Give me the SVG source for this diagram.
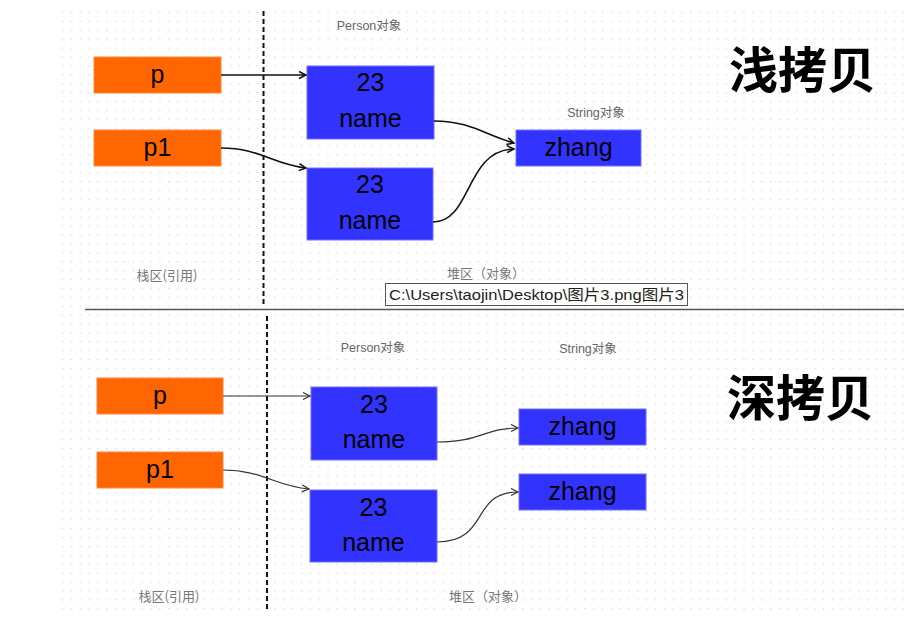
<svg xmlns="http://www.w3.org/2000/svg" width="904" height="625" viewBox="0 0 904 625">
<defs>
<pattern id="dots" x="0" y="3" width="8.85" height="8.9" patternUnits="userSpaceOnUse">
<rect x="0" y="0" width="1.2" height="1.2" fill="#d2d2d2"/>
</pattern>
<marker id="ah" markerWidth="10" markerHeight="10" refX="8" refY="4" orient="auto" markerUnits="userSpaceOnUse">
<path d="M1,0.5 L8,4 L1,7.5" fill="none" stroke="#111" stroke-width="1.5"/>
</marker>
<marker id="ah2" markerWidth="10" markerHeight="10" refX="8" refY="4" orient="auto" markerUnits="userSpaceOnUse">
<path d="M1,0.5 L8,4 L1,7.5" fill="none" stroke="#333" stroke-width="1.2"/>
</marker>
<style>
.ref{fill:#FF6600;stroke:#ff8a3d;stroke-width:1}
.obj{fill:#3333FF;stroke:#7070ff;stroke-width:1}
.big{font-family:"Liberation Sans",Arial,sans-serif;font-size:25px;fill:#000;text-anchor:middle}
.lbl{font-family:"Liberation Sans","Noto Sans CJK SC",sans-serif;font-size:12.5px;fill:#666;text-anchor:middle}
.zone{font-family:"Noto Sans CJK SC",sans-serif;font-size:13px;fill:#777;text-anchor:middle}
.title{font-family:"Noto Sans CJK SC",sans-serif;font-size:49px;font-weight:bold;fill:#000}
.c1{fill:none;stroke:#111;stroke-width:1.6}
.c2{fill:none;stroke:#333;stroke-width:1.2}
.dash{stroke:#111;stroke-width:2;stroke-dasharray:5 3}
</style>
</defs>
<rect width="904" height="625" fill="#fff"/>
<rect x="62" y="8" width="842" height="606" fill="url(#dots)"/>

<!-- separators -->
<line class="dash" x1="263.5" y1="11" x2="263.5" y2="305"/>
<line class="dash" x1="267" y1="316" x2="267" y2="612"/>
<line x1="85" y1="309.5" x2="904" y2="309.5" stroke="#555" stroke-width="1.6"/>

<!-- labels -->
<text class="lbl" x="369" y="30">Person对象</text>
<text class="lbl" x="596" y="117">String对象</text>
<text class="lbl" x="373" y="352">Person对象</text>
<text class="lbl" x="588" y="353">String对象</text>
<text class="zone" x="167" y="280">栈区(引用)</text>
<text class="zone" x="486" y="278">堆区（对象）</text>
<text class="zone" x="169" y="601">栈区(引用)</text>
<text class="zone" x="488" y="601">堆区（对象）</text>
<text class="title" x="729" y="88">浅拷贝</text>
<text class="title" x="727" y="416">深拷贝</text>

<!-- tooltip -->
<g id="tooltip">
<rect x="385.5" y="283.5" width="302" height="22" fill="#fff" stroke="#555" stroke-width="1"/>
<text x="389" y="300" font-family="Liberation Sans,'Noto Sans CJK SC',sans-serif" font-size="15" fill="#222" textLength="295" lengthAdjust="spacingAndGlyphs">C:\Users\taojin\Desktop\图片3.png图片3</text>
</g>

<!-- top section nodes -->
<g id="top-p"><rect class="ref" x="94" y="57" width="127" height="36"/><text class="big" x="157.5" y="83">p</text></g>
<g id="top-p1"><rect class="ref" x="94" y="130" width="127" height="36"/><text class="big" x="157.5" y="156">p1</text></g>
<g id="top-person1"><rect class="obj" x="307" y="66" width="127" height="73"/><text class="big" x="370.5" y="91">23</text><text class="big" x="370.5" y="127">name</text></g>
<g id="top-person2"><rect class="obj" x="307" y="168" width="126" height="72"/><text class="big" x="370" y="193">23</text><text class="big" x="370" y="229">name</text></g>
<g id="top-string"><rect class="obj" x="516" y="130" width="125" height="36"/><text class="big" x="578.5" y="156">zhang</text></g>

<!-- bottom section nodes -->
<g id="bot-p"><rect class="ref" x="97" y="378" width="126" height="36"/><text class="big" x="160" y="404">p</text></g>
<g id="bot-p1"><rect class="ref" x="97" y="452" width="126" height="36"/><text class="big" x="160" y="478">p1</text></g>
<g id="bot-person1"><rect class="obj" x="311" y="387" width="126" height="73"/><text class="big" x="374" y="413">23</text><text class="big" x="374" y="448">name</text></g>
<g id="bot-person2"><rect class="obj" x="310" y="490" width="127" height="72"/><text class="big" x="373.5" y="516">23</text><text class="big" x="373.5" y="551">name</text></g>
<g id="bot-string1"><rect class="obj" x="519" y="409" width="127" height="36"/><text class="big" x="582.5" y="435">zhang</text></g>
<g id="bot-string2"><rect class="obj" x="519" y="474" width="127" height="36"/><text class="big" x="582.5" y="500">zhang</text></g>

<!-- connectors -->
<g id="connectors">
<path class="c1" d="M221,75 H306" marker-end="url(#ah)"/>
<path class="c1" d="M221,148 C260,148 272,164 306,168" marker-end="url(#ah)"/>
<path class="c1" d="M434,121 C470,121 485,135 514,143" marker-end="url(#ah)"/>
<path class="c1" d="M433,222 C472,222 465,150 514,149" marker-end="url(#ah)"/>
<path class="c2" d="M223,396 H310" marker-end="url(#ah2)"/>
<path class="c2" d="M223,470 C262,470 275,486 309,489" marker-end="url(#ah2)"/>
<path class="c2" d="M437,442 C480,442 485,428 518,428" marker-end="url(#ah2)"/>
<path class="c2" d="M437,542 C490,542 470,492 518,492" marker-end="url(#ah2)"/>
</g>
</svg>
